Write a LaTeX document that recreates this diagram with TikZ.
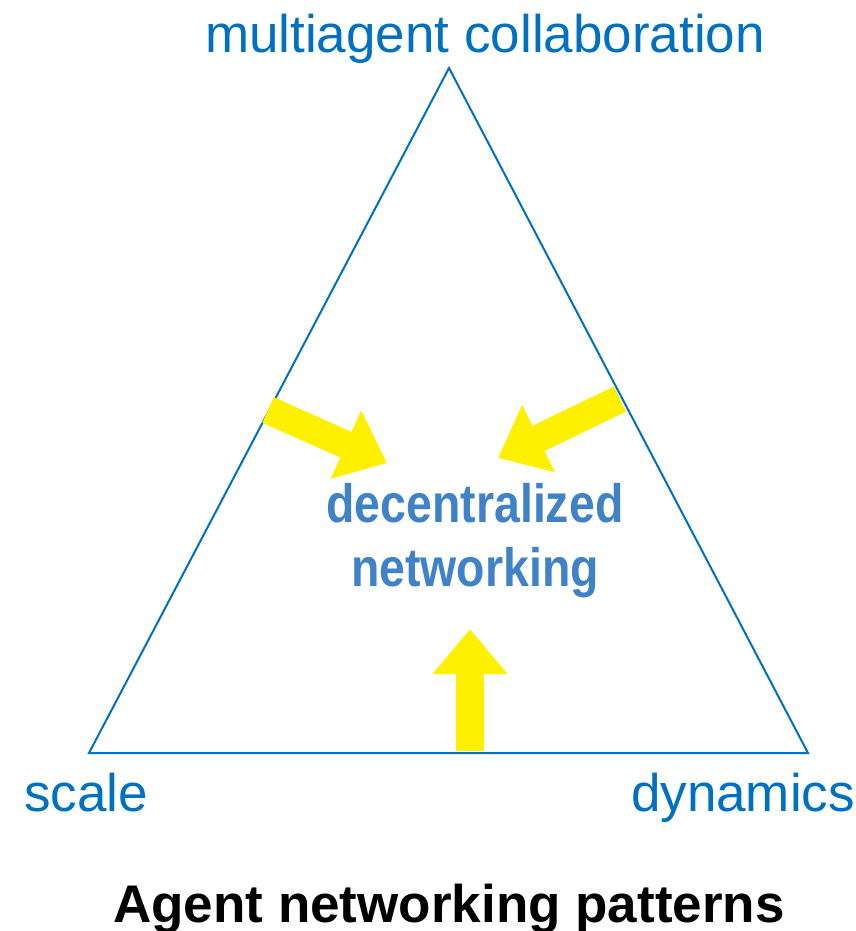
\documentclass[tikz,border=0pt]{standalone}
\usepackage{fontspec}
\setmainfont{Liberation Sans}
\newfontfamily\narrowsans[FakeStretch=0.86]{Liberation Sans}
\usepackage{xcolor}
\usetikzlibrary{arrows.meta}
\usetikzlibrary{positioning}

\definecolor{edgeblue}{RGB}{0,112,192}
\definecolor{hubblue}{RGB}{64,130,200}
\definecolor{pushyellow}{RGB}{255,240,0}

\tikzset{
  corner/.style={text=edgeblue, font=\fontsize{26.5}{30}\selectfont, inner sep=0pt, anchor=base},
  hub/.style={text=hubblue, font=\narrowsans\bfseries\fontsize{27}{32}\selectfont, align=center, inner sep=0pt},
  push/.style={draw=pushyellow, line width=14pt, -{Triangle[length=22.5pt,width=36pt]}},
  tri/.style={draw=edgeblue, line width=1pt}
}

\begin{document}
\begin{tikzpicture}[x=0.5pt, y=-0.5pt]
    \useasboundingbox (0,0) rectangle (856,931);
    \coordinate (A) at (449,68);
    \coordinate (B) at (89,753);
    \coordinate (C) at (808,753);
    \draw[tri] (A) -- (B) -- (C) -- cycle;
    \node[corner] (collab) at (485,53) {multiagent collaboration};
    \node[corner] (scale) at (86,811) {scale};
    \node[corner] (dyn) at (743,811) {dynamics};
    \node[hub] (hub) at (475,541) {decentralized\\networking};
    \coordinate (t1) at (268,410);
    \coordinate (h1) at (387,463);
    \coordinate (t2) at (620,399);
    \coordinate (h2) at (498,458);
    \coordinate (t3) at (470,751);
    \coordinate (h3) at (470,629);
    \draw[push] (t1) -- (h1);
    \draw[push] (t2) -- (h2);
    \draw[push] (t3) -- (h3);
    \node[anchor=base, inner sep=0pt, font=\bfseries\fontsize{26.5}{30}\selectfont] (title) at (449,922) {Agent networking patterns};
  \end{tikzpicture}
\end{document}
